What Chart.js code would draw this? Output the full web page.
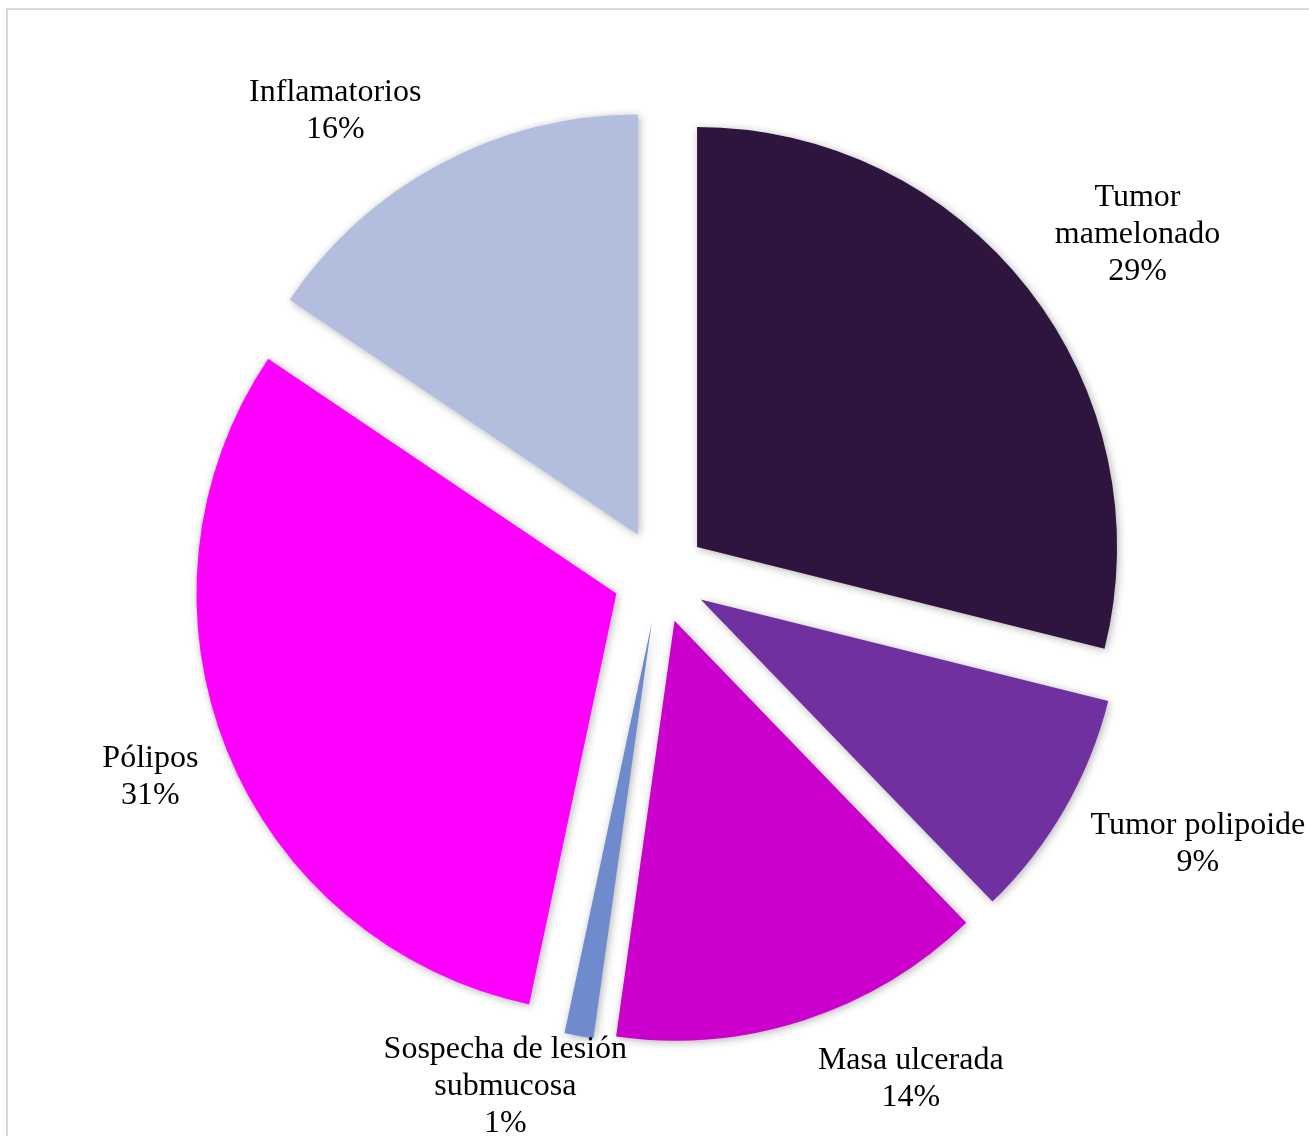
<!DOCTYPE html>
<html>
<head>
<meta charset="utf-8">
<script src="https://cdn.jsdelivr.net/npm/chart.js@4.4.1/dist/chart.umd.min.js"></script>
<style>
  html, body { margin: 0; padding: 0; background: #fff; overflow: hidden; }
  #marco { position: absolute; left: 6px; top: 8px; width: 1400px; height: 1300px; border: 2px solid #d9d9d9; }
  #grafica { position: absolute; left: 0; top: 0; }
</style>
</head>
<body>
<div id="marco"></div>
<canvas id="grafica" width="1309" height="1136"></canvas>
<script>
// Hallazgos endoscópicos (número de casos)
const hallazgos = [['Tumor', 'mamelonado'], ['Tumor polipoide'], ['Masa ulcerada'], ['Sospecha de lesión', 'submucosa'], ['Pólipos'], ['Inflamatorios']];
const casos = [26, 8, 13, 1, 28, 14];
const colores = ['#2d153e', '#7030a0', '#cc00cc', '#6f8bcd', '#ff00ff', '#b3bedf'];

// Etiquetas: [giro sobre la bisectriz en grados, distancia al centro]
const posEtiquetas = [[2.3, 588], [-3.7, 600], [-8.6, 560], [6.9, 532], [0.7, 547], [-6.8, 569]];
const separacion = 47; // porciones separadas del centro

// Separa cada porción a lo largo de su bisectriz
const separar = {
  id: 'separar',
  afterDatasetsUpdate(chart) {
    chart.getDatasetMeta(0).data.forEach(arc => {
      const mid = (arc.startAngle + arc.endAngle) / 2;
      arc.x += Math.cos(mid) * separacion;
      arc.y += Math.sin(mid) * separacion;
    });
  }
};

// Sombra suave bajo las porciones
const sombra = {
  id: 'sombra',
  beforeDatasetsDraw(chart) {
    const ctx = chart.ctx;
    ctx.save();
    ctx.shadowColor = 'rgba(0, 0, 0, 0.3)';
    ctx.shadowBlur = 9;
    ctx.shadowOffsetX = 1.5;
    ctx.shadowOffsetY = 1.5;
  },
  afterDatasetsDraw(chart) {
    chart.ctx.restore();
  }
};

// Nombre y porcentaje fuera de cada porción
const etiquetas = {
  id: 'etiquetas',
  afterDatasetsDraw(chart) {
    const { ctx, chartArea } = chart;
    const cx = (chartArea.left + chartArea.right) / 2;
    const cy = (chartArea.top + chartArea.bottom) / 2 + 2;
    const total = casos.reduce((a, b) => a + b, 0);
    ctx.save();
    ctx.font = '32px "Liberation Serif", "Times New Roman", serif';
    ctx.fillStyle = '#000';
    ctx.textAlign = 'center';
    ctx.textBaseline = 'middle';
    chart.getDatasetMeta(0).data.forEach((arc, i) => {
      const ang = (arc.startAngle + arc.endAngle) / 2 + posEtiquetas[i][0] * Math.PI / 180;
      const x = cx + Math.cos(ang) * posEtiquetas[i][1];
      const y = cy + Math.sin(ang) * posEtiquetas[i][1];
      const lineas = hallazgos[i].concat(Math.round(casos[i] / total * 100) + '%');
      lineas.forEach((t, k) => ctx.fillText(t, x, y + (k - (lineas.length - 1) / 2) * 37));
    });
    ctx.restore();
  }
};

new Chart(document.getElementById('grafica'), {
  type: 'pie',
  data: {
    labels: hallazgos.map(h => h.join(' ')),
    datasets: [{
      data: casos,
      backgroundColor: colores,
      borderWidth: 0,
      radius: 420
    }]
  },
  options: {
    responsive: false,
    animation: false,
    events: [],
    layout: { padding: { left: 11, top: 16, right: 0, bottom: 0 } },
    plugins: {
      legend: { display: false },
      tooltip: { enabled: false }
    }
  },
  plugins: [separar, sombra, etiquetas]
});
</script>
</body>
</html>
